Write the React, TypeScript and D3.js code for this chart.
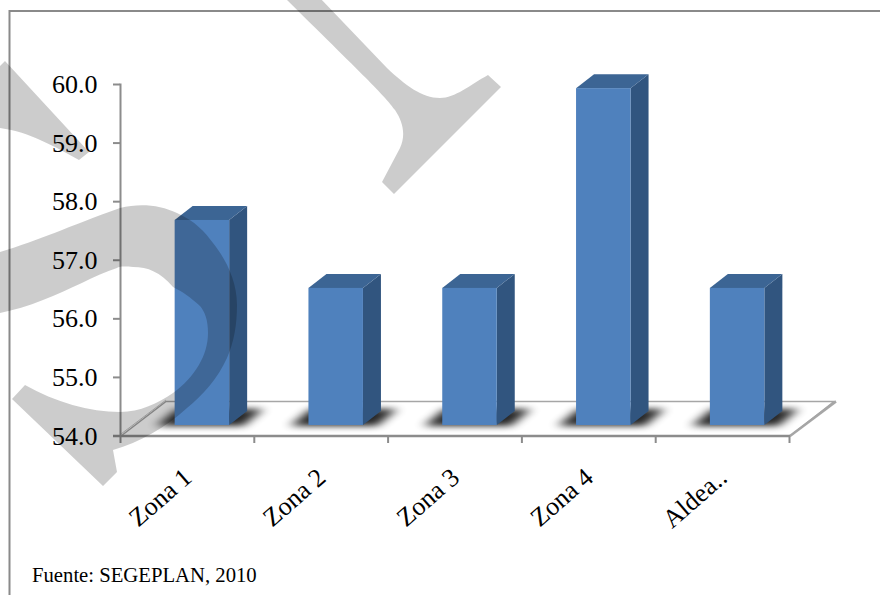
import React from "react";
import * as d3 from "d3";

const categories = ["Zona 1", "Zona 2", "Zona 3", "Zona 4", "Aldea.."];
const values = [57.5, 56.34, 56.34, 59.75, 56.34];
const yTicks = [54, 55, 56, 57, 58, 59, 60];
const footer = "Fuente: SEGEPLAN, 2010";

const W = 880, H = 595;
const serif = "'Liberation Serif', serif";
const axisColor = "#8c8c8c";

const y = d3.scaleLinear().domain([54, 60]).range([436, 84.5]);
const x = d3.scaleBand<string>().domain(categories).range([120.5, 789.5]).padding(0);

const barW = 54.5;
const shiftX = 14.5;    // perspective shift of the front face
const lift = 11;        // front face lifted above the axis floor
const dx = 18, dy = 14; // bar depth

const wm1 = "M285,-2 L320,-2 L387,68 C405,85 422,98 440,98 C455,98 470,85 488,75 L501,87 L394,194 L382,182 L400,148 C406,135 403,122 395,110 C385,96 370,82 285,-2 Z";
const wm2 = "M0,66 L5,61 L89,152 L79,160 C55,147 30,132 0,128 Z";
const wm3 = "M0,252 C40,240 67,227 120,208 C140,203 160,205 177,213 C195,221 205,232 213,243 C225,258 237,280 237,305 C237,325 234,342 227,358 C218,378 203,395 187,408 C165,428 140,442 113,450 L117,472 L103,486 L12,399 L25,385 C55,402 90,412 120,412 C140,412 158,403 173,393 C195,377 208,355 208,333 C208,320 205,312 200,306 C190,297 183,292 173,287 C160,272 148,267 133,267 C122,266 118,267 117,268 C95,275 70,290 43,300 C28,306 14,310 0,313 Z";

export default function App() {
  const base = y(54);
  return (
    <svg width={W} height={H} viewBox={`0 0 ${W} ${H}`}
      style={{ position: "absolute", left: 0, top: 0, background: "#fff" }}>
      <defs>
        <filter id="sh" x="-40%" y="-100%" width="180%" height="300%">
          <feGaussianBlur stdDeviation="6 3" />
        </filter>
        <clipPath id="floorClip">
          <path d="M121,435 L166,402 L836,402 L790,435 Z" />
        </clipPath>
      </defs>

      {/* frame */}
      <path d="M880,11 L9.5,11 L9.5,595" fill="none" stroke="#8a8a8a" strokeWidth={2} />

      {/* floor */}
      <path d="M121,436 L166,401.5 L834,401.5 L790,436" fill="#fff" stroke="#a6a6a6" strokeWidth={1.5} />
      <path d="M121,434 L166,400" fill="none" stroke="#c4c4c4" strokeWidth={1} />
      <path d="M790,436 L836,401.5" fill="none" stroke="#a6a6a6" strokeWidth={2.5} />
      <g clipPath="url(#floorClip)">
        {categories.map((c) => {
          const left = (x(c) as number) + x.bandwidth() / 2 + shiftX - barW / 2;
          const b = base - lift;
          return (
            <path key={c}
              d={`M${left - 18},${b + 1} L${left + barW + 14},${b + 1} L${left + barW + 34},${b - 16} L${left + 2},${b - 16} Z`}
              fill="#000" opacity={0.85} filter="url(#sh)" />
          );
        })}
      </g>

      {/* axes */}
      <line x1={120.5} x2={120.5} y1={y(60) - 1} y2={base + 1} stroke={axisColor} strokeWidth={2} />
      {yTicks.map((t) => (
        <g key={t}>
          <line x1={113} x2={120} y1={y(t)} y2={y(t)} stroke={axisColor} strokeWidth={2} />
          <text x={97.5} y={y(t) + 8.5} textAnchor="end" fontFamily={serif} fontSize={26} fill="#000">
            {t.toFixed(1)}
          </text>
        </g>
      ))}
      <line x1={113} x2={790} y1={base} y2={base} stroke={axisColor} strokeWidth={2.5} />
      {[...categories.map((c) => x(c) as number), 789.5].map((t, i) => (
        <line key={i} x1={t} x2={t} y1={base} y2={base + 7} stroke={axisColor} strokeWidth={2} />
      ))}

      {/* bars */}
      {categories.map((c, i) => {
        const left = (x(c) as number) + x.bandwidth() / 2 + shiftX - barW / 2;
        const right = left + barW;
        const top = y(values[i]) - lift;
        const bottom = base - lift;
        return (
          <g key={c}>
            <path d={`M${right},${top} L${right + dx},${top - dy} L${right + dx},${bottom - dy} L${right},${bottom} Z`} fill="#31557f" />
            <path d={`M${left},${top} L${left + dx},${top - dy} L${right + dx},${top - dy} L${right},${top} Z`} fill="#3c6594" />
            <rect x={left} y={top} width={barW} height={bottom - top} fill="#4f81bd" />
          </g>
        );
      })}

      {/* category labels */}
      {categories.map((c) => {
        const cx = (x(c) as number) + x.bandwidth() / 2 + 6;
        return (
          <text key={c} transform={`translate(${cx},${base + 44}) rotate(-41)`} textAnchor="end"
            fontFamily={serif} fontSize={26} fill="#000">{c}</text>
        );
      })}

      <text x={32} y={582} fontFamily={serif} fontSize={20.7} fill="#000">{footer}</text>

      {/* watermark */}
      <g fill="#000" fillOpacity={0.2}>
        <path d={wm1} />
        <path d={wm2} />
        <path d={wm3} />
      </g>
    </svg>
  );
}
